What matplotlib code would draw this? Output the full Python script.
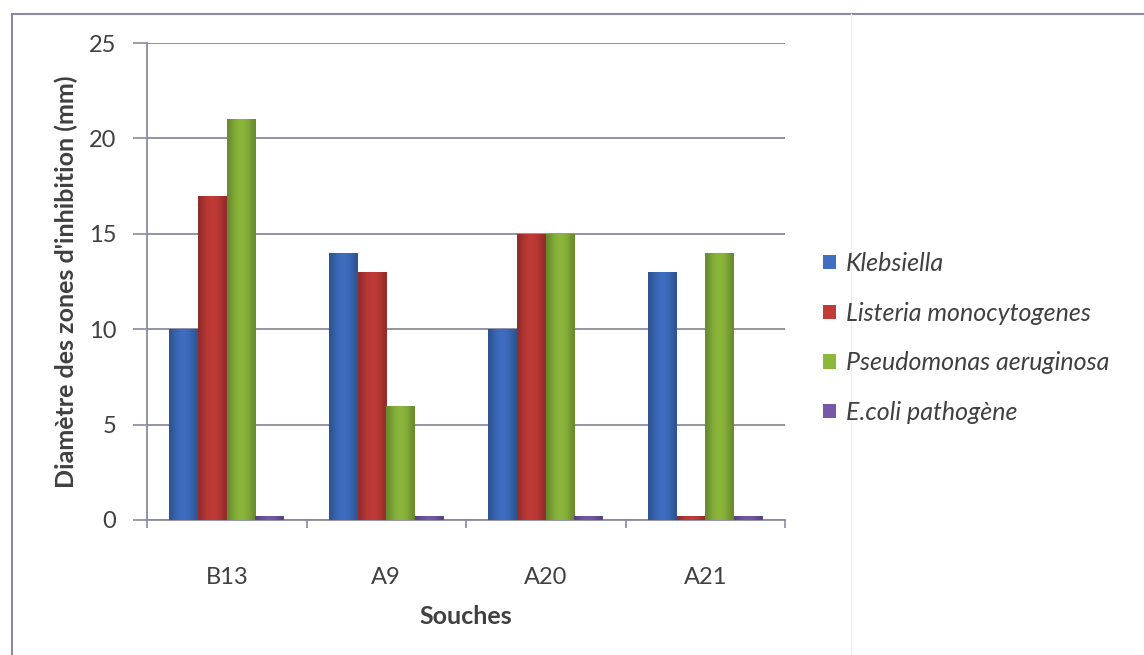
import matplotlib.pyplot as plt
import numpy as np
from matplotlib.patches import Rectangle, Patch
from matplotlib.lines import Line2D

plt.rcParams['font.family'] = ['Lato', 'DejaVu Sans']

souches = ['B13', 'A9', 'A20', 'A21']
bacteries = ['Klebsiella', 'Listeria monocytogenes', 'Pseudomonas aeruginosa', 'E.coli pathogène']
klebsiella = [10, 14, 10, 13]
listeria = [17, 13, 15, 0.2]
pseudomonas = [21, 6, 15, 14]
ecoli = [0.2, 0.2, 0.2, 0.2]
couleurs = ['#3f6fc2', '#c23b37', '#8cb83c', '#7559a8']

texte = '#404040'
grille = '#8a8aa0'

fig = plt.figure(figsize=(11.44, 6.55), dpi=100)
ax = fig.add_axes([147 / 1144, 1 - 520 / 655, (785 - 147) / 1144, (520 - 43) / 655])

# cadre du graphique (seuls les bords haut et gauche sont visibles)
fig.patches.append(Rectangle((12 / 1144, -0.1), 1.2, 1 - 14 / 655 + 0.1,
                             transform=fig.transFigure, fill=False,
                             edgecolor=grille, linewidth=1.5))
fig.add_artist(Line2D([851 / 1144, 851 / 1144], [0, 1 - 14 / 655],
                      transform=fig.transFigure, color='#f3e6ee', linewidth=1))

series = [klebsiella, listeria, pseudomonas, ecoli]
x = np.arange(len(souches))
largeur = 0.18
degrade = np.array([[0.45, 0.75, 0.92, 1.0, 0.92, 0.75, 0.45]])

for i, (valeurs, couleur) in enumerate(zip(series, couleurs)):
    pos = x + (i - 1.5) * largeur
    barres = ax.bar(pos, valeurs, width=largeur, color=couleur,
                    edgecolor='none', zorder=3)
    # léger dégradé horizontal pour donner du relief
    for b in barres:
        x0, w, h = b.get_x(), b.get_width(), b.get_height()
        rgb = np.array(plt.matplotlib.colors.to_rgb(couleur))
        img = (degrade[..., None] * rgb[None, None, :]) + (1 - degrade[..., None]) * rgb * 0.55
        im = ax.imshow(np.clip(img, 0, 1), extent=[x0, x0 + w, 0, h],
                       aspect='auto', zorder=4, interpolation='bicubic')
        im.set_clip_path(b)

ax.set_xlim(-0.5, len(souches) - 0.5)
ax.set_ylim(0, 25)
ax.set_yticks(range(0, 26, 5))
ax.set_xticks(x)
ax.set_xticklabels(souches)
ax.set_xticks(np.arange(-0.5, len(souches)), minor=True)
ax.tick_params(axis='x', which='major', length=0, pad=34, labelsize=17, colors=texte)
ax.tick_params(axis='x', which='minor', length=6, width=1.2, color=grille, direction='out')
ax.tick_params(axis='y', length=10, width=1.2, color=grille, pad=12, labelsize=17, labelcolor=texte)
ax.grid(axis='y', color=grille, linewidth=1.3, zorder=0)
ax.set_axisbelow(True)
for cote in ['top', 'right']:
    ax.spines[cote].set_visible(False)
for cote in ['left', 'bottom']:
    ax.spines[cote].set_color(grille)
    ax.spines[cote].set_linewidth(1.3)

ax.set_ylabel("Diamètre des zones d'inhibition (mm)", fontsize=18, fontweight='bold',
              color=texte, labelpad=8)
ax.set_xlabel('Souches', fontsize=18, fontweight='bold', color=texte, labelpad=12)

poignees = [Patch(facecolor=c, edgecolor='none') for c in couleurs]
fig.legend(poignees, bacteries, loc='center left', bbox_to_anchor=(823 / 1144, 1 - 338 / 655),
           frameon=False, prop={'style': 'italic', 'size': 18}, labelcolor=texte,
           handlelength=0.5, handleheight=0.5, handletextpad=0.4, labelspacing=1.07,
           borderpad=0, borderaxespad=0)

fig.savefig('out.png', dpi=100, facecolor='white')
